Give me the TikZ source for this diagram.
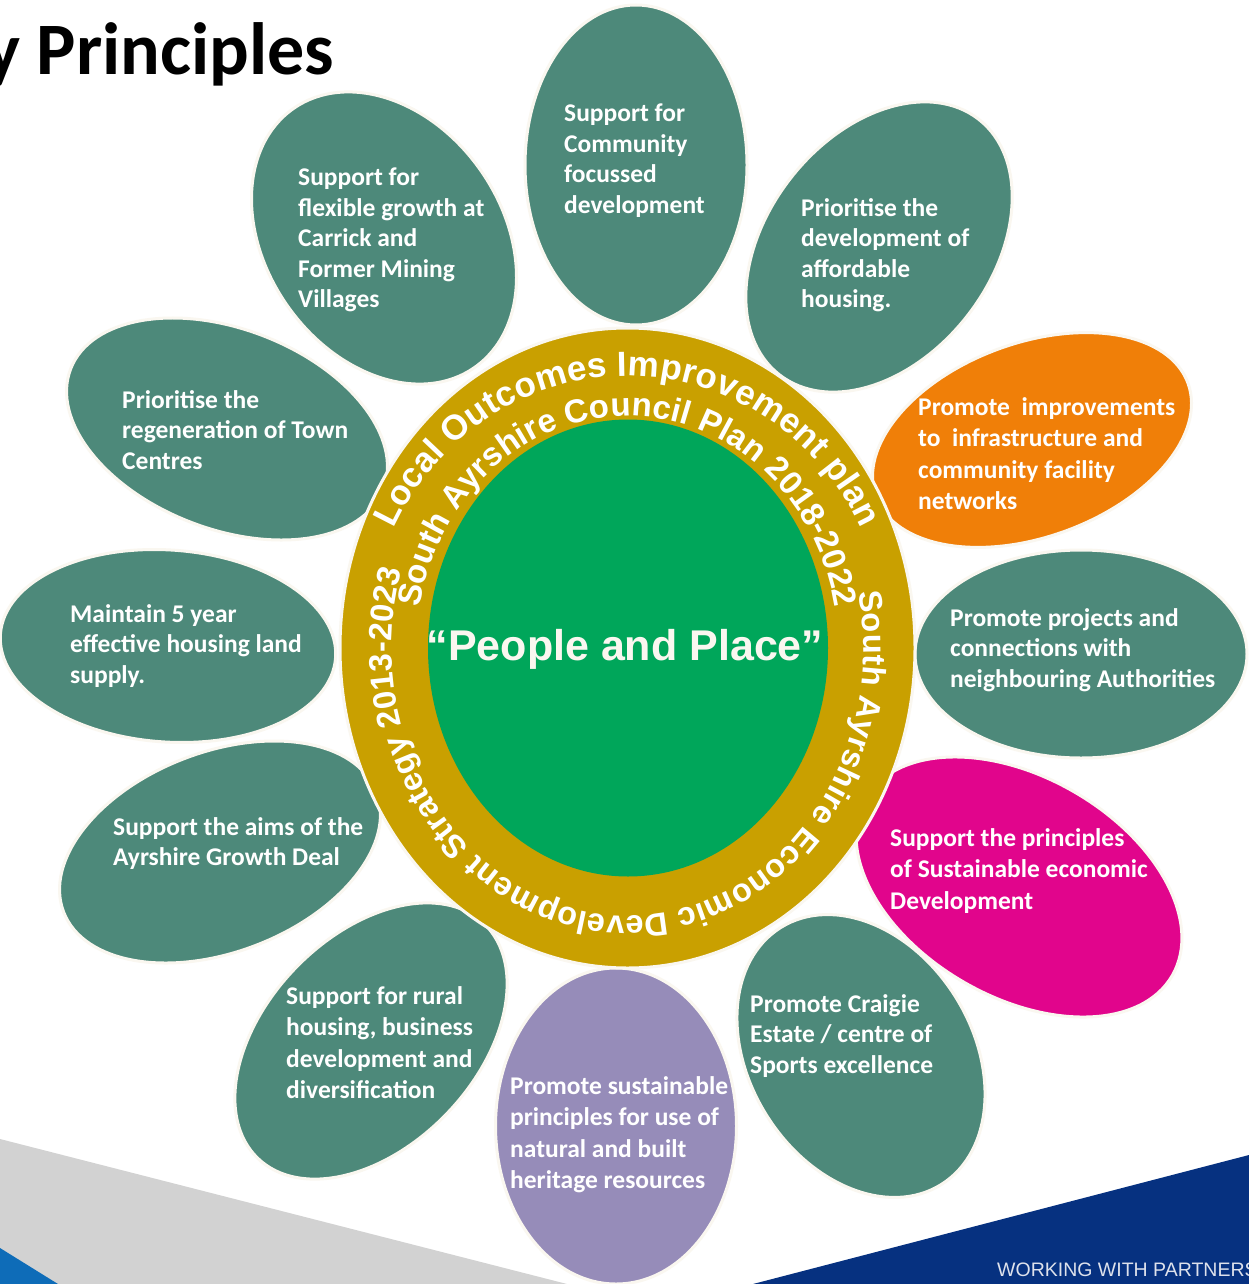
\documentclass[tikz,border=0pt]{standalone}
\usepackage{fontspec}
\usepackage{tikz}
\usetikzlibrary{shapes.geometric}
\usetikzlibrary{decorations.text}
\newfontfamily\petalfont{Carlito}
\newfontfamily\ringfont{Liberation Sans}
\definecolor{petalteal}{RGB}{77,137,122}
\definecolor{petalorange}{RGB}{240,127,8}
\definecolor{petalmagenta}{RGB}{225,5,140}
\definecolor{petalpurple}{RGB}{150,140,185}
\definecolor{ringgold}{RGB}{201,160,0}
\definecolor{coregreen}{RGB}{0,166,90}
\definecolor{rimcream}{RGB}{250,247,240}
\definecolor{bandgrey}{RGB}{210,210,210}
\definecolor{bandblue}{RGB}{14,108,184}
\definecolor{banddark}{RGB}{6,49,128}
\definecolor{footgrey}{RGB}{222,226,236}
\tikzset{petal/.style = {ellipse, inner sep=0pt, draw=rimcream, line width=3pt, fill=petalteal},
         petaltext/.style = {anchor=north west, inner sep=0pt, align=left, text=white,
                             font=\petalfont\bfseries\fontsize{25.5}{30.5}\selectfont}}

\begin{document}
\begin{tikzpicture}[x=1pt, y=-1pt]
  \useasboundingbox (0,0) rectangle (1249,1284);
  \clip (0,0) rectangle (1249,1284);
  \fill[white] (0,0) rectangle (1249,1284);
  \fill[bandgrey] (0,1139) -- (567,1284) -- (0,1284) -- cycle;
  \fill[bandblue] (0,1248) -- (58,1284) -- (0,1284) -- cycle;
  \fill[banddark] (753,1284) -- (1249,1155) -- (1249,1284) -- cycle;
  \node[anchor=base west, inner sep=0pt, text=footgrey, font=\ringfont\fontsize{19.5}{20}\selectfont] (partners) at (997,1276) {WORKING WITH PARTNERS};
  \node[anchor=base west, inner sep=0pt, font=\petalfont\bfseries\fontsize{74}{80}\selectfont] (title) at (-15,75) {y Principles};

  \node[petal, minimum width=222, minimum height=320] (pcommunity) at (636,165) {};
  \node[petal, minimum width=316, minimum height=236, rotate=-55] (pcarrick) at (384,238) {};
  \node[petal, minimum width=324, minimum height=224, rotate=52] (phousing) at (879,247) {};
  \node[petal, minimum width=335, minimum height=200, rotate=-21] (ptowns) at (227,429) {};
  \node[petal, fill=petalorange, minimum width=332, minimum height=194, rotate=20] (pnetworks) at (1032,440) {};
  \node[petal, minimum width=336, minimum height=192, rotate=-4] (pland) at (168,646) {};
  \node[petal, minimum width=332, minimum height=208] (pneighbours) at (1081,654) {};
  \node[petal, minimum width=335, minimum height=200, rotate=21] (pgrowth) at (220,852) {};
  \node[petal, fill=petalmagenta, minimum width=354, minimum height=220, rotate=-30] (peconomy) at (1019,887) {};
  \node[petal, minimum width=326, minimum height=210, rotate=46] (prural) at (371,1041) {};
  \node[petal, fill=petalpurple, minimum width=241, minimum height=316] (pheritage) at (616,1126) {};
  \node[petal, minimum width=303, minimum height=223, rotate=-58] (pcraigie) at (861,1056) {};

  \node[petaltext] (tcommunity) at (564,104) {Support for\\Community\\focussed\\development};
  \node[petaltext] (tcarrick) at (298,168) {Support for\\flexible growth at\\Carrick and\\Former Mining\\Villages};
  \node[petaltext] (thousing) at (801,198) {Prioritise the\\development of\\affordable\\housing.};
  \node[petaltext] (ttowns) at (122,390) {Prioritise the\\regeneration of Town\\Centres};
  \node[petaltext, font=\petalfont\bfseries\fontsize{25.5}{31.5}\selectfont] (tnetworks) at (918,397) {Promote \ improvements\\to \ infrastructure and\\community facility\\networks};
  \node[petaltext] (tland) at (70,604) {Maintain 5 year\\effective housing land\\supply.};
  \node[petaltext] (tneighbours) at (950,608) {Promote projects and\\connections with\\neighbouring Authorities};
  \node[petaltext] (tgrowth) at (113,817) {Support the aims of the\\Ayrshire Growth Deal};
  \node[petaltext, font=\petalfont\bfseries\fontsize{25.5}{31.5}\selectfont] (teconomy) at (890,828) {Support the principles\\of Sustainable economic\\Development};
  \node[petaltext, font=\petalfont\bfseries\fontsize{25.5}{31.5}\selectfont] (trural) at (286,986) {Support for rural\\housing, business\\development and\\diversification};
  \node[petaltext, font=\petalfont\bfseries\fontsize{25.5}{31.5}\selectfont] (theritage) at (510,1076) {Promote sustainable\\principles for use of\\natural and built\\heritage resources};
  \node[petaltext] (tcraigie) at (750,994) {Promote Craigie\\Estate / centre of\\Sports excellence};

  \node[ellipse, inner sep=0pt, fill=ringgold, draw=rimcream, line width=3pt, minimum width=575, minimum height=640] (ring) at (627.5,648) {};
  \node[ellipse, inner sep=0pt, fill=coregreen, minimum width=400, minimum height=457] (core) at (628,648) {};
  \node[anchor=base, inner sep=0pt, text=rimcream, font=\ringfont\bfseries\fontsize{43}{45}\selectfont] (place) at (625,660) {“People and Place”};

  \path[decorate, decoration={text along path, text align=fit to path,
        text={|\color{white}\ringfont\bfseries\fontsize{35}{35}\selectfont|Local Outcomes Improvement plan}}]
    ([shift={(206:260 and 272)}]ring.center) arc[start angle=206, end angle=334, x radius=260, y radius=272];
  \path[decorate, decoration={text along path, text align=fit to path,
        text={|\color{white}\ringfont\bfseries\fontsize{33}{33}\selectfont|South Ayrshire Council Plan 2018-2022}}]
    ([shift={(190:211 and 232)}]ring.center) arc[start angle=190, end angle=350, x radius=211, y radius=232];
  \path[decorate, decoration={text along path, text align=fit to path,
        text={|\color{white}\ringfont\bfseries\fontsize{32.5}{33}\selectfont|South Ayrshire Economic Development Strategy 2013-2023}}]
    ([shift={(-12:236 and 268)}]ring.center) arc[start angle=-12, end angle=197, x radius=236, y radius=268];
\end{tikzpicture}
\end{document}
